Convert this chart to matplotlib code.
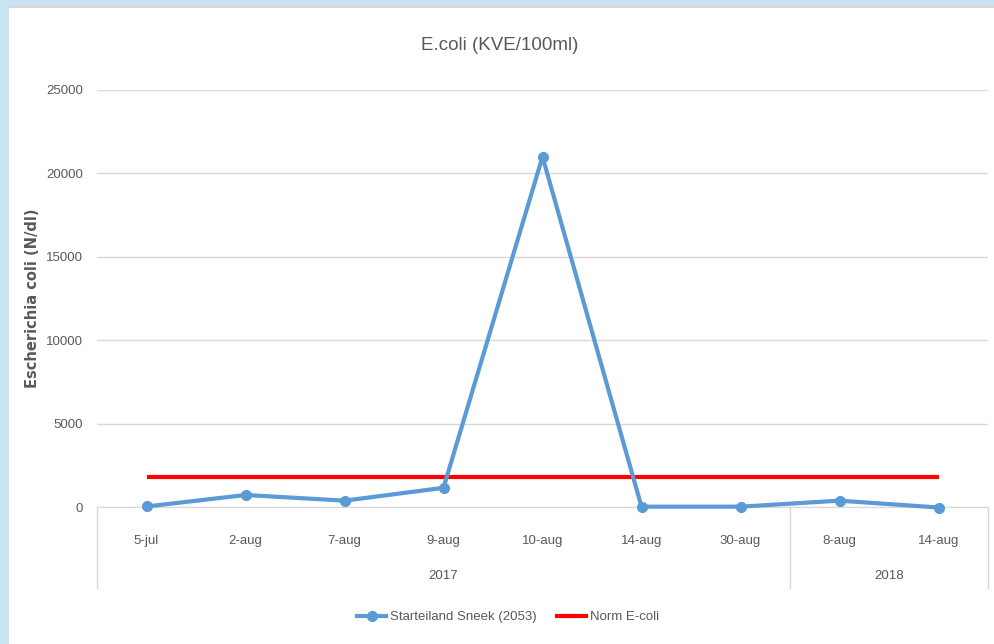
import numpy as np
import matplotlib.pyplot as plt
from matplotlib.patches import Rectangle
from matplotlib.lines import Line2D

# --- data ---
dates = ["5-jul", "2-aug", "7-aug", "9-aug", "10-aug", "14-aug", "30-aug", "8-aug", "14-aug"]
years = ["2017", "2018"]
year_counts = [7, 2]
ecoli = [30, 720, 380, 1150, 21000, 20, 20, 380, -30]
norm = [1800] * 9
y_ticks = [0, 5000, 10000, 15000, 20000, 25000]

BLUE = "#5B9BD5"
RED = "#FF0000"
GREY_TXT = "#595959"
GRID = "#D9D9D9"
NARROW = ["Liberation Sans Narrow", "Liberation Sans", "DejaVu Sans"]

W, H = 994, 644
fig = plt.figure(figsize=(W / 100, H / 100), dpi=100)
fig.patch.set_facecolor("#C9E3F0")
# white panel
fig.patches.append(Rectangle((9 / W, 0), 1, 1 - 8 / H, transform=fig.transFigure,
                             facecolor="white", edgecolor="none", zorder=-5))
fig.patches.append(Rectangle((9 / W, 1 - 8 / H), 1, 2 / H, transform=fig.transFigure,
                             facecolor="#D8D8D8", edgecolor="none", zorder=-5))

left, right = 97 / W, 988 / W
bottom, top = 1 - 507 / H, 1 - 90 / H
ax = fig.add_axes([left, bottom, right - left, top - bottom])
ax.set_facecolor("none")

x = np.arange(len(dates))
ax.plot(x, norm, color=RED, linewidth=3, zorder=3, solid_capstyle="butt")
ax.plot(x, ecoli, color=BLUE, linewidth=3, marker="o", markersize=7,
        zorder=4, clip_on=False)

ax.set_xlim(-0.5, len(dates) - 0.5)
ax.set_ylim(0, 25000)
ax.set_yticks(y_ticks)
ax.set_yticklabels([str(t) for t in y_ticks], family=NARROW, fontsize=9.5, color=GREY_TXT)
ax.tick_params(axis="y", length=0, pad=10)
ax.grid(True, axis="y", color=GRID, linewidth=1)
ax.set_axisbelow(True)
for s in ["top", "right", "left"]:
    ax.spines[s].set_visible(False)
ax.spines["bottom"].set_color(GRID)

ax.set_xticks(x)
ax.set_xticklabels(dates, family=NARROW, fontsize=9.5, color=GREY_TXT)
ax.tick_params(axis="x", length=0, pad=20)

# second level of the category axis
trans = ax.get_xaxis_transform()
sep_bottom = -(588 - 507) / (507 - 90)
start = 0
seps = [-0.5]
for yr, n in zip(years, year_counts):
    center = start + (n - 1) / 2
    ax.text(center, -(576 - 507) / (507 - 90), yr, transform=trans, ha="center", va="center",
            family=NARROW, fontsize=9.5, color=GREY_TXT)
    start += n
    seps.append(start - 0.5)
for s in seps:
    ax.add_line(Line2D([s, s], [0, sep_bottom], transform=trans, color=GRID,
                       linewidth=1, clip_on=False))

ax.set_ylabel("Escherichia coli (N/dl)", fontsize=10.5, color=GREY_TXT,
              fontweight="bold")
ax.yaxis.set_label_coords(-(97 - 40) / (988 - 97), 0.5)

fig.text(500 / W, 1 - 45 / H, "E.coli (KVE/100ml)", ha="center", va="center",
         family=NARROW, fontsize=13.5, color=GREY_TXT)

handles = [Line2D([], [], color=BLUE, linewidth=3, marker="o", markersize=7),
           Line2D([], [], color=RED, linewidth=3)]
fig.legend(handles, ["Starteiland Sneek (2053)", "Norm E-coli"], loc="center",
           bbox_to_anchor=(508 / W, 1 - 617 / H), ncol=2, frameon=False,
           prop={"family": NARROW, "size": 9.5}, labelcolor=GREY_TXT,
           handlelength=2.2, handletextpad=0.3, columnspacing=1.5)

fig.savefig("out.png", dpi=100, facecolor=fig.get_facecolor())
